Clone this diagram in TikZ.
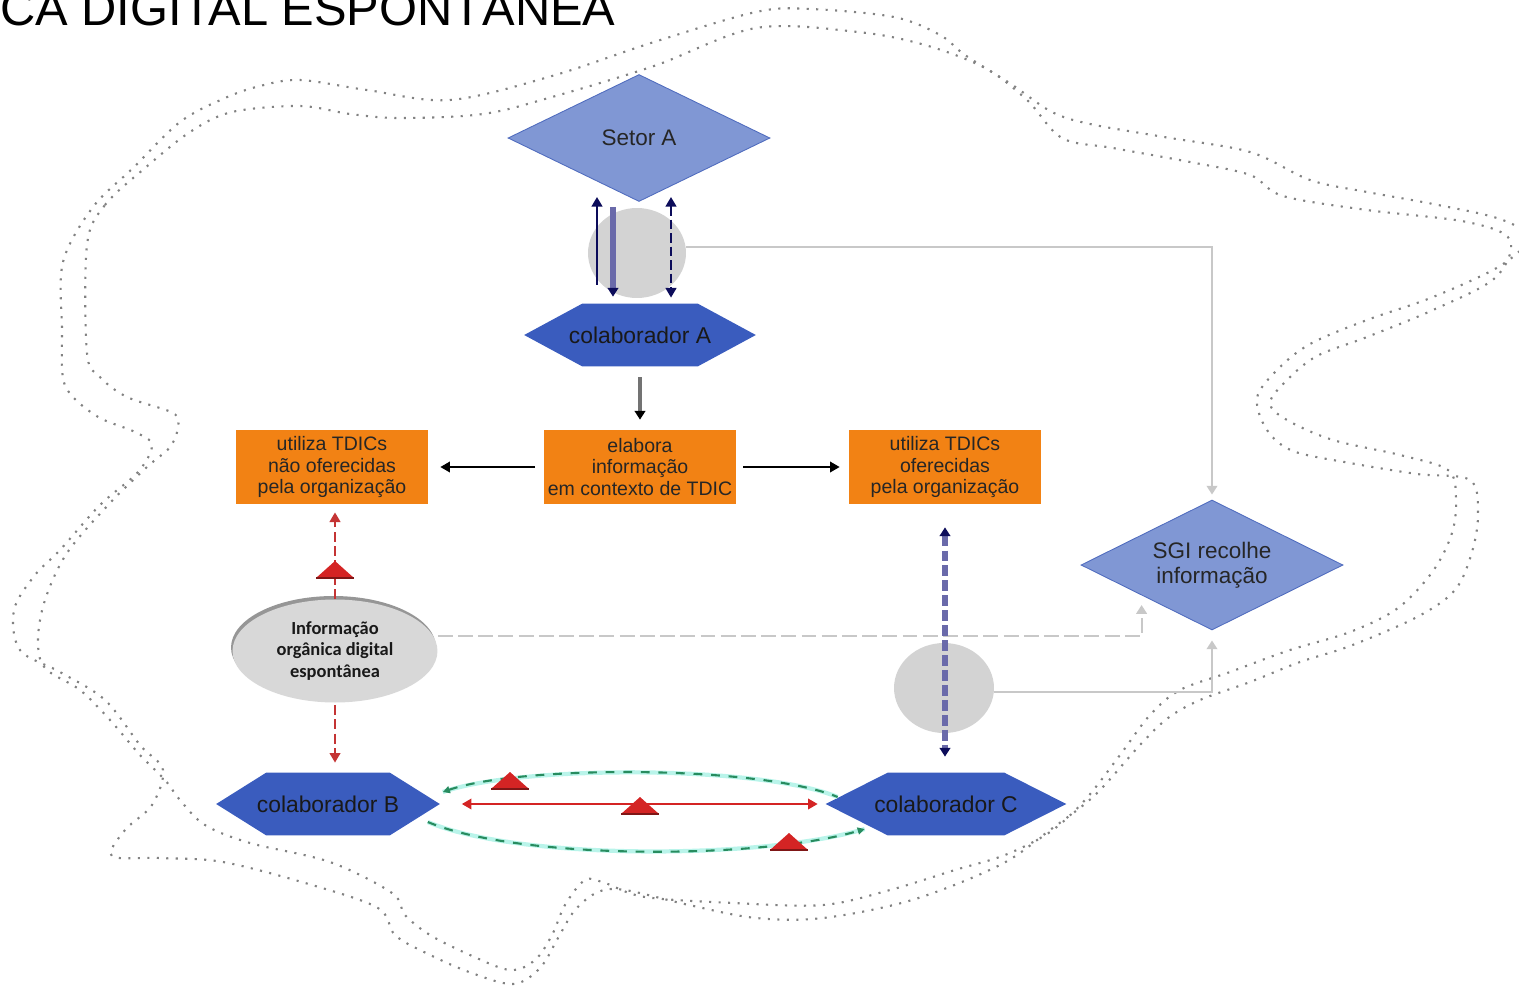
\documentclass[tikz,border=0pt]{standalone}
\usepackage{fontspec}
\setmainfont{Liberation Sans}
\newfontfamily\calib{Carlito}
\usepackage{tikz}
\usetikzlibrary{arrows.meta,calc,shapes.geometric,shadows,backgrounds,positioning}

\definecolor{setorblue}{RGB}{128,151,212}
\definecolor{setoredge}{RGB}{80,108,190}
\definecolor{colabblue}{RGB}{58,92,190}
\definecolor{tdicorange}{RGB}{242,130,20}
\definecolor{navyhead}{RGB}{12,12,90}
\definecolor{slatebar}{RGB}{106,106,170}
\definecolor{bubblegray}{RGB}{211,211,211}
\definecolor{ghostgray}{RGB}{200,200,200}
\definecolor{alertred}{RGB}{212,36,36}
\definecolor{dashred}{RGB}{196,52,52}
\definecolor{arcgreen}{RGB}{40,140,95}
\definecolor{arcglow}{RGB}{185,244,234}
\definecolor{infogray}{RGB}{216,216,216}
\definecolor{infoshade}{RGB}{150,150,150}
\definecolor{contourgray}{RGB}{130,130,130}

% hexagon behind a colaborador node
\newcommand\hexfill[2]{%
  \fill[colabblue] (#1.west) -- ([xshift=#2]#1.north west) -- ([xshift=-#2]#1.north east)
    -- (#1.east) -- ([xshift=-#2]#1.south east) -- ([xshift=#2]#1.south west) -- cycle;}

\tikzset{
  sector/.style={diamond, aspect=2, fill=setorblue, draw=setoredge, line width=0.5pt, inner sep=0pt,
    minimum width=5.24cm, minimum height=2.54cm, align=center, text=black!85,
    font=\fontsize{12.8pt}{14.2pt}\selectfont},
  colab/.style={rectangle, inner sep=0pt, minimum height=1.24cm, text=black!90,
    font=\fontsize{13pt}{15pt}\selectfont},
  tdic/.style={rectangle, fill=tdicorange, inner sep=0pt, minimum width=3.86cm, minimum height=1.48cm,
    align=center, text=black!85, font=\fontsize{11.1pt}{12.5pt}\selectfont},
  bubble/.style={ellipse, fill=bubblegray, inner sep=0pt, minimum width=1.96cm, minimum height=1.8cm},
  orginfo/.style={ellipse, fill=infogray, inner sep=0pt, minimum width=4.1cm, minimum height=2.06cm,
    align=center, text=black!90, font=\calib\bfseries\fontsize{10.5pt}{12.5pt}\selectfont,
    copy shadow={shadow xshift=-0.03cm, shadow yshift=0.07cm, fill=infoshade, draw=none}},
  contour/.style={draw=contourgray, line width=1.2pt, dash pattern=on 1.2pt off 4.2pt},
  navyline/.style={draw=navyhead, line width=1.5pt},
  navydash/.style={draw=navyhead, line width=1.5pt, dash pattern=on 5.5pt off 2.2pt},
  barline/.style={draw=slatebar, line width=3.4pt, -{Triangle[width=6pt,length=5pt,color=navyhead]}},
  downbar/.style={draw=black!55, line width=2.8pt, -{Triangle[width=6pt,length=5pt,color=black]}},
  blackline/.style={draw=black, line width=1.1pt},
  ghostline/.style={draw=ghostgray, line width=1.4pt, -{Triangle[width=6pt,length=5pt,color=ghostgray]}},
  ghostdash/.style={draw=ghostgray, line width=1.2pt, dash pattern=on 8.5pt off 3pt,
    -{Triangle[width=6pt,length=5pt,color=ghostgray]}},
  reddash/.style={draw=dashred, line width=1.7pt, dash pattern=on 5.7pt off 2.5pt},
  purpledash/.style={draw=slatebar, line width=3.4pt, dash pattern=on 6.2pt off 2.3pt,
    {Triangle[width=6pt,length=5pt,color=navyhead]}-{Triangle[width=6pt,length=5pt,color=navyhead]}},
  redline/.style={draw=alertred, line width=1.1pt},
  greenarc/.style={draw=arcgreen, line width=1.2pt, dash pattern=on 5pt off 5pt,
    preaction={draw=arcglow, line width=2.4pt, solid, arrows=-}},
  redmark/.pic={
    \fill[alertred] (-19,8) -- (0,-9) -- (19,8) -- cycle;
    \draw[alertred!60!black, line width=0.8pt] (-19,8) -- (19,8);
  }
}

\begin{document}
\begin{tikzpicture}[x=0.02cm, y=-0.02cm, >={Triangle[width=6pt,length=5.5pt]}]
\useasboundingbox (0,0) rectangle (1519,988);
\clip (0,0) rectangle (1519,988);
\node[anchor=base west, inner sep=0pt, font=\fontsize{27.8pt}{30pt}\selectfont] (title) at (0,25) {CA DIGITAL ESPONTÂNEA};
%
% contour of the organisation
\draw[contour] plot[smooth cycle, tension=0.55] coordinates {
  (62,330) (63,262) (93,207) (133,168) (180,122) (225,98) (260,86) (300,80) (367,90) (450,100)
  (552,76) (654,42) (756,12) (810,9) (894,17) (940,35) (965,55) (1011,84) (1052,112) (1090,124)
  (1164,137) (1250,152) (1310,180) (1367,192) (1433,204) (1500,219) (1528,238) (1500,266)
  (1433,297) (1367,320) (1310,344) (1277,370) (1257,398) (1267,430) (1293,451) (1350,463)
  (1417,474) (1470,480) (1478,514) (1472,552) (1455,590) (1417,617) (1350,646) (1300,662)
  (1250,682) (1200,700) (1168,718) (1140,745) (1095,795) (1050,830) (1000,865) (912,900)
  (823,918) (756,918) (689,905) (625,890) (598,892) (575,910) (558,938) (540,968) (513,984)
  (469,972) (424,952) (395,935) (378,908) (312,885) (223,862) (160,858) (112,856) (125,830)
  (152,805) (163,770) (140,745) (105,700) (60,672) (20,650) (14,610) (35,575) (60,550)
  (100,505) (138,472) (152,445) (135,432) (100,418) (74,398) (63,378)};
\draw[contour] plot[smooth cycle, tension=0.55] coordinates {
  (87,245) (105,205) (145,168) (190,132) (232,112) (300,106) (350,114) (400,118)
  (483,114) (552,97) (654,66) (756,28) (858,32) (925,45) (985,68) (1027,100) (1062,138)
  (1113,148) (1190,162) (1250,175) (1283,196) (1367,210) (1467,222) (1510,240) (1495,278)
  (1433,310) (1367,337) (1317,356) (1287,380) (1270,403) (1287,420) (1333,440) (1400,455)
  (1448,470) (1456,498) (1452,533) (1433,571) (1398,608) (1350,632) (1290,650) (1230,672)
  (1180,690) (1150,715) (1120,755) (1085,800) (1050,832) (1005,855) (955,870) (890,890)
  (823,905) (734,903) (645,897) (605,883) (585,880) (565,905) (552,935) (535,960) (510,970)
  (470,955) (430,935) (405,915) (392,893) (330,862) (250,843) (205,825) (180,800) (165,780)
  (140,755) (110,720) (80,690) (45,668) (38,640) (45,600) (67,553) (110,503) (147,467)
  (170,447) (178,427) (173,413) (127,397) (100,377) (87,353)};
%
\node[bubble] (bubA) at (637,253) {};
\node[bubble, minimum width=2cm] (bubC) at (944,688) {};
\node[sector] (setorA) at (639,138) {Setor A};
\node[sector, minimum height=2.6cm] (sgi) at (1212,565) {SGI recolhe\\informação};
\node[colab, minimum width=4.62cm] (colA) at (640,335) {colaborador A};
\node[colab, minimum width=4.46cm] (colB) at (328,804) {colaborador B};
\node[colab, minimum width=4.8cm] (colC) at (946,804) {colaborador C};
\node[tdic] (elabora) at (640,467) {elabora\\informação\\em contexto de TDIC};
\node[tdic] (naoofer) at (332,467) {utiliza TDICs\\não oferecidas\\pela organização};
\node[tdic] (ofer) at (945,467) {utiliza TDICs\\oferecidas\\pela organização};
\node[orginfo] (info) at (335,651) {Informação\\orgânica digital\\espontânea};
\begin{scope}[on background layer]
  \hexfill{colA}{1.16cm}
  \hexfill{colB}{1.0cm}
  \hexfill{colC}{1.24cm}
\end{scope}
%
% setor A and colaborador A
\draw[navyline, ->] ($(colA.north)+(-43,-19)$) -- ($(setorA.south)+(-42,-5)$);
\draw[barline] ($(setorA.south)+(-26,5)$) -- ($(colA.north)+(-27,-7)$);
\draw[navydash, <->] ($(setorA.south)+(32,-5)$) -- ($(colA.north)+(31,-6)$);
%
% towards SGI
\draw[ghostline] ([yshift=0.12cm]bubA.east) -| ([yshift=0.1cm]sgi.north);
\draw[ghostdash] ([yshift=0.3cm]info.east) -| ($(sgi.west)+(61,40)$);
\draw[ghostline] ([yshift=-0.08cm]bubC.east) -| ([yshift=-0.2cm]sgi.south);
%
\draw[downbar, shorten <=0.22cm, shorten >=0.2cm] (colA) -- (elabora);
\draw[blackline, ->, shorten <=0.16cm, shorten >=0.23cm] (elabora) -- (naoofer);
\draw[blackline, ->, shorten <=0.13cm, shorten >=0.17cm] (elabora) -- (ofer);
%
\draw[reddash, ->, shorten >=0.16cm] (info.north) -- (info.north |- naoofer.south);
\draw[reddash, ->, shorten <=0.04cm, shorten >=0.2cm] (info.south) -- (info.south |- colB.north);
\draw[purpledash, shorten <=0.46cm, shorten >=0.32cm] (ofer.south) -- (ofer.south |- colC.north);
%
% colaborador B and colaborador C
\draw[redline, <->, shorten <=0.44cm, shorten >=0.16cm] (colB.east) -- (colC.west);
\draw[greenarc, {Triangle[width=4pt,length=4pt]}-] ($(colB.east)+(3,-12)$)
  .. controls +(77,-27) and +(-78,-32) .. ($(colC.west)+(12,-7)$);
\draw[greenarc, -{Triangle[width=4pt,length=4pt]}] ($(colB.east)+(-12,18)$)
  .. controls +(90,38) and +(-105,31) .. ($(colC.west)+(39,25)$);
%
\pic at (335,570) {redmark};
\pic at (510,781) {redmark};
\pic at (640,806) {redmark};
\pic at (789,842) {redmark};
\end{tikzpicture}
\end{document}
